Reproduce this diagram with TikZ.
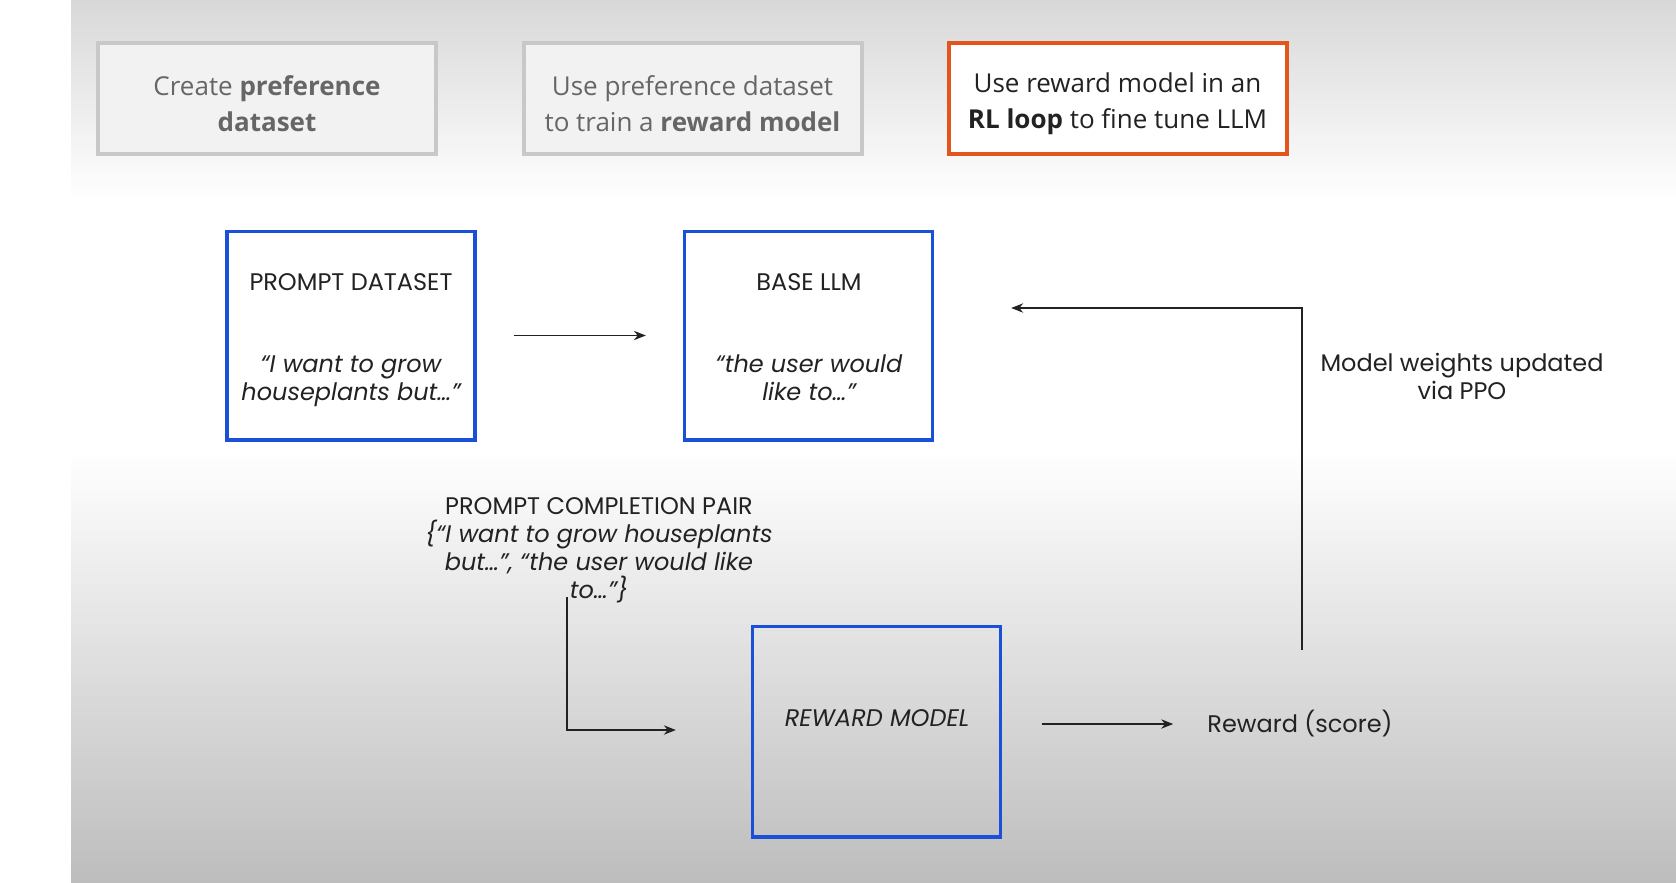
\documentclass[tikz,border=0pt]{standalone}
\usepackage{fontspec}
\setmainfont{Poppins}
\newfontfamily\opensans{Open Sans}
\usetikzlibrary{arrows.meta,calc}
\definecolor{bgtop}{HTML}{D8D8D8}
\definecolor{bgbot}{HTML}{BDBDBD}
\definecolor{bluebox}{HTML}{1A50D8}
\definecolor{graybd}{HTML}{C8C8C8}
\definecolor{grayfill}{HTML}{F2F2F2}
\definecolor{graytxt}{HTML}{666666}
\definecolor{orangebd}{HTML}{E2551B}
\definecolor{ink}{HTML}{222222}
\tikzset{
  topbox/.style={draw=graybd, line width=3pt, fill=grayfill, minimum width=253.5pt, minimum height=83pt, inner sep=0pt},
  activebox/.style={topbox, draw=orangebd, fill=white},
  toptext/.style={align=center, text=graytxt, font=\opensans\fontsize{19.5}{27}\selectfont, inner sep=0pt},
  activetext/.style={toptext, text=ink},
  bluebx/.style={draw=bluebox, line width=2.5pt, minimum width=186pt, minimum height=156.5pt, inner sep=0pt},
  lbl/.style={align=center, text=ink, font=\fontsize{18}{21}\selectfont, inner sep=0pt},
  ilbl/.style={lbl, font=\fontsize{18}{21}\selectfont\itshape},
  arr/.style={draw=ink, line width=1.1pt, -{Stealth[length=9pt,width=7pt]}},
}
\begin{document}
\begin{tikzpicture}[x=0.75pt,y=-0.75pt]
\useasboundingbox (0,0) rectangle (1676,882);
% background
\fill[white] (0,0) rectangle (1676,882);
\shade[top color=bgtop, bottom color=white] (71,0) rectangle (1676,200);
\fill[white] (71,199) rectangle (1676,451);
\shade[top color=white, bottom color=bgbot] (71,450) rectangle (1676,882);

% top stage boxes
\node[topbox] (s1) at (267,98.5) {};
\node[topbox] (s2) at (692.5,98.5) {};
\node[activebox] (s3) at (1117.5,98.5) {};
\node[toptext] (s1t) at (267,104) {Create \textbf{preference}\\\textbf{dataset}};
\node[toptext] (s2t) at (692.5,104) {Use preference dataset\\to train a \textbf{reward model}};
\node[activetext] (s3t) at (1117.5,104) {Use reward model in an\\\textbf{RL loop} to fine tune LLM};

% blue boxes
\node[bluebx] (pd) at (351,335.5) {};
\node[bluebx] (base) at (808.5,335.5) {};
\node[bluebx, minimum height=158pt] (rm) at (876.5,731.5) {};

\node[lbl] (pdt) at (351,282) {PROMPT DATASET};
\node[ilbl] (pdq) at (351,381) {“I want to grow\\houseplants but…”};
\node[lbl] (baset) at (809,282) {BASE LLM};
\node[ilbl] (baseq) at (809,378) {“the user would\\like to…”};
\node[ilbl] (rmt) at (877,718) {REWARD MODEL};

\node[lbl] (pair) at (599,550) {PROMPT COMPLETION PAIR\\\textit{\{“I want to grow houseplants}\\\textit{but…”, “the user would like}\\\textit{to…”\}}};
\node[lbl] (mw) at (1462,376) {Model weights updated\\via PPO};
\node[lbl] (rew) at (1300,724) {Reward (score)};

% connectors
\draw[arr] ($(pd.east)+(37,0)$) -- ($(base.west)+(-37,0)$);
\coordinate (pc) at (567,597);
\draw[arr] (pc) |- ($(rm.west)+(-75,-1.5)$);
\draw[arr] ($(rm.east)+(40,-7.5)$) -- ($(rew.west)+(-34,0)$);
\coordinate (fb) at (1302,650);
\draw[arr] (fb) |- ($(base.east)+(77,-27.5)$);
\end{tikzpicture}
\end{document}
